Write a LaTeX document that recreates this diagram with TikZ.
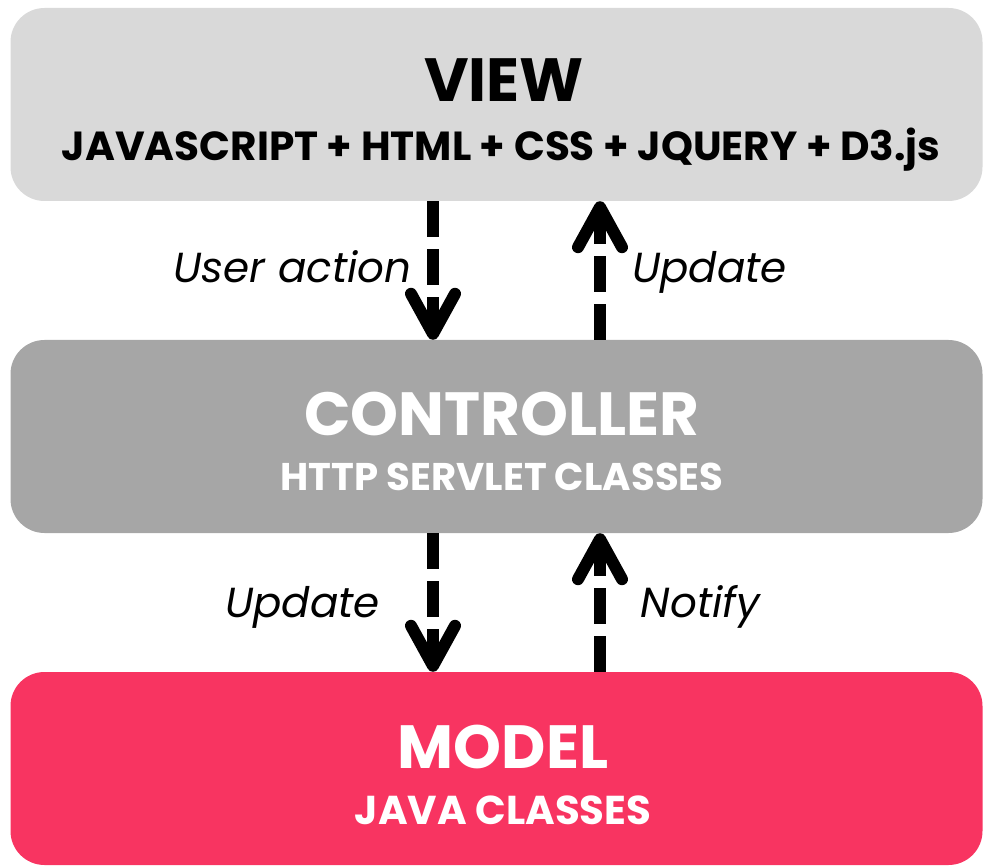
\documentclass[tikz,border=0pt]{standalone}
\usepackage{fontspec}
\setmainfont{Poppins}
\usetikzlibrary{arrows.meta}
\definecolor{viewgray}{HTML}{D9D9D9}
\definecolor{ctrlgray}{HTML}{A6A6A6}
\definecolor{modelpink}{HTML}{F83461}
\tikzset{
  layer/.style={rounded corners=34pt, minimum width=972pt, minimum height=193pt, inner sep=0pt, draw=none},
  title/.style={font=\bfseries\fontsize{61}{61}\selectfont, anchor=base, inner sep=0pt},
  subtitle/.style={font=\bfseries\fontsize{#1}{#1}\selectfont, anchor=base, inner sep=0pt},
  subtitle/.default=39.5,
  flowlabel/.style={font=\itshape\fontsize{42}{42}\selectfont, anchor=base, inner sep=0pt},
  flow/.style={line width=12pt, dash pattern=on 36pt off 12pt, line cap=butt,
    -{Straight Barb[length=40pt, width=44pt, line width=12pt, round]}},
}
\begin{document}
\begin{tikzpicture}[x=1pt, y=-1pt]
  \useasboundingbox (0,0) rectangle (983,866);

  % the three layers
  \node[layer, fill=viewgray]  (view)  at (496.5,104.5) {};
  \node[layer, fill=ctrlgray]  (ctrl)  at (496.5,436.5) {};
  \node[layer, fill=modelpink] (model) at (496.5,768.5) {};

  % layer captions
  \node[title]    (viewT)  at (504,102) {VIEW};
  \node[subtitle=40.6] (viewS)  at (501,161) {JAVASCRIPT + HTML + CSS + JQUERY + D3.js};
  \node[title, text=white]    (ctrlT)  at (502,436) {CONTROLLER};
  \node[subtitle=38.6, text=white] (ctrlS)  at (502,490) {HTTP SERVLET CLASSES};
  \node[title, text=white]    (modelT) at (503,768) {MODEL};
  \node[subtitle=40.3, text=white] (modelS) at (503,824) {JAVA CLASSES};

  % arrow columns
  \coordinate (left)  at (433,0);
  \coordinate (right) at (600,0);

  \draw[flow] (view.south -| left)  -- (ctrl.north -| left);
  \draw[flow] (ctrl.north -| right) -- (view.south -| right);
  \draw[flow] (ctrl.south -| left)  -- (model.north -| left);
  \draw[flow] (model.north -| right) -- (ctrl.south -| right);

  % arrow labels
  \node[flowlabel] (uact)  at (292.5,283) {User action};
  \node[flowlabel] (upd1)  at (709.5,283) {Update};
  \node[flowlabel] (upd2)  at (302.5,617) {Update};
  \node[flowlabel] (notif) at (700.5,617) {Notify};
\end{tikzpicture}
\end{document}
